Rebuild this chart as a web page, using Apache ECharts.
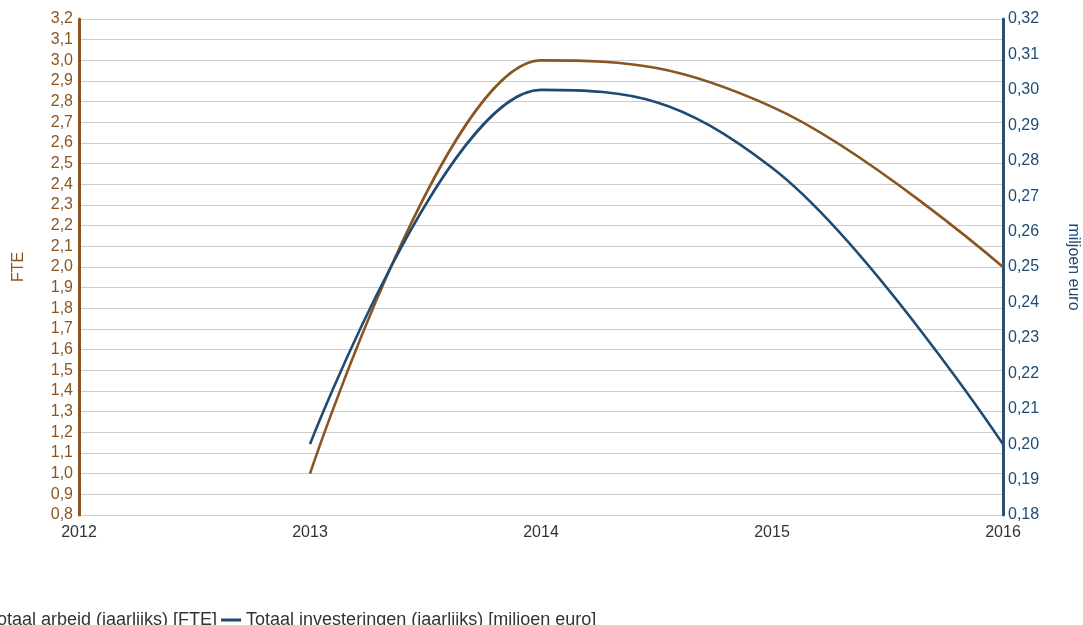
<!DOCTYPE html>
<html>
<head>
<meta charset="utf-8">
<script src="https://cdn.jsdelivr.net/npm/echarts@6/dist/echarts.min.js"></script>
<style>
  html, body { margin: 0; padding: 0; background: #fff; }
  #chart { width: 1083px; height: 625px; }
</style>
</head>
<body>
<div id="chart"></div>
<script>
// jaren en waarden
var years = [2013, 2014, 2015, 2016];
var arbeid = [1.0, 3.0, 2.775, 2.0];           // FTE
var investeringen = [0.20, 0.30, 0.278, 0.20]; // miljoen euro

var brown = '#8a5520';
var blue = '#1f4a73';

function komma(v, d) {
    return v.toFixed(d).replace('.', ',');
}

// spline zoals in de originele grafiek: geen overshoot bij toppen
function splinePath(pts) {
    var smoothing = 1.5, denom = smoothing + 1;
    var d = [];
    var prevRight = null;
    for (var i = 0; i < pts.length; i++) {
        var x = pts[i][0], y = pts[i][1];
        var lc = null, rc = null;
        if (i > 0 && i < pts.length - 1) {
            var lx = pts[i - 1][0], ly = pts[i - 1][1];
            var nx = pts[i + 1][0], ny = pts[i + 1][1];
            var lcx = (smoothing * x + lx) / denom, lcy = (smoothing * y + ly) / denom;
            var rcx = (smoothing * x + nx) / denom, rcy = (smoothing * y + ny) / denom;
            var corr = ((rcy - lcy) * (rcx - x)) / (rcx - lcx) + y - rcy;
            lcy += corr; rcy += corr;
            if (lcy > ly && lcy > y) { lcy = Math.max(ly, y); rcy = 2 * y - lcy; }
            else if (lcy < ly && lcy < y) { lcy = Math.min(ly, y); rcy = 2 * y - lcy; }
            if (rcy > ny && rcy > y) { rcy = Math.max(ny, y); lcy = 2 * y - rcy; }
            else if (rcy < ny && rcy < y) { rcy = Math.min(ny, y); lcy = 2 * y - rcy; }
            lc = [lcx, lcy]; rc = [rcx, rcy];
        }
        if (i === 0) {
            d.push('M' + x + ',' + y);
        } else {
            var c1 = prevRight || pts[i - 1];
            var c2 = lc || [x, y];
            d.push('C' + c1[0] + ',' + c1[1] + ' ' + c2[0] + ',' + c2[1] + ' ' + x + ',' + y);
        }
        prevRight = rc;
    }
    return d.join(' ');
}

function splineSeries(name, values, axisIndex, color) {
    return {
        name: name,
        type: 'custom',
        coordinateSystem: 'cartesian2d',
        yAxisIndex: axisIndex,
        color: color,
        encode: { x: 0, y: 1 },
        data: years.map(function (y, i) { return [y, values[i]]; }),
        renderItem: function (params, api) {
            if (params.dataIndex !== 0) return null;
            var pts = years.map(function (y, i) { return api.coord([y, values[i]]); });
            return {
                type: 'path',
                shape: { pathData: splinePath(pts) },
                style: { fill: 'none', stroke: color, lineWidth: 2.6 }
            };
        }
    };
}

var myChart = echarts.init(document.getElementById('chart'));

var option = {
    animation: false,
    textStyle: { fontFamily: 'Liberation Sans, Arial, sans-serif' },
    grid: { left: 79, right: 80, top: 19, bottom: 110, outerBoundsMode: 'none', containLabel: false },
    legend: {
        left: -42,
        top: 606,
        itemWidth: 20,
        itemHeight: 3,
        itemGap: 4,
        icon: 'rect',
        textStyle: { fontSize: 18, color: '#333' },
        data: ['Totaal arbeid (jaarlijks) [FTE]', 'Totaal investeringen (jaarlijks) [miljoen euro]']
    },
    xAxis: {
        type: 'value',
        min: 2012,
        max: 2016,
        interval: 1,
        axisLine: { show: false },
        axisTick: { show: false },
        splitLine: { show: false },
        axisLabel: { color: '#333', fontSize: 16, margin: 10, formatter: function (v) { return String(v); } }
    },
    yAxis: [
        {
            type: 'value',
            min: 0.8,
            max: 3.2,
            interval: 0.1,
            name: 'FTE',
            nameLocation: 'middle',
            nameGap: 52,
            nameTextStyle: { color: brown, fontSize: 16 },
            axisLine: { show: true, lineStyle: { color: brown, width: 3 } },
            axisTick: { show: false },
            axisLabel: { color: brown, fontSize: 16, margin: 6, formatter: function (v) { return komma(v, 1); } },
            splitLine: { lineStyle: { color: '#cccccc', width: 1 } }
        },
        {
            type: 'value',
            min: 0.18,
            max: 0.32,
            interval: 0.01,
            position: 'right',
            name: 'miljoen euro',
            nameLocation: 'middle',
            nameGap: 62,
            nameRotate: -90,
            nameTextStyle: { color: blue, fontSize: 16 },
            axisLine: { show: true, lineStyle: { color: '#2c4f72', width: 3 } },
            axisTick: { show: false },
            axisLabel: { color: blue, fontSize: 16, margin: 5, formatter: function (v) { return komma(v, 2); } },
            splitLine: { show: false }
        }
    ],
    series: [
        splineSeries('Totaal arbeid (jaarlijks) [FTE]', arbeid, 0, brown),
        splineSeries('Totaal investeringen (jaarlijks) [miljoen euro]', investeringen, 1, blue)
    ]
};

myChart.setOption(option);
</script>
</body>
</html>
